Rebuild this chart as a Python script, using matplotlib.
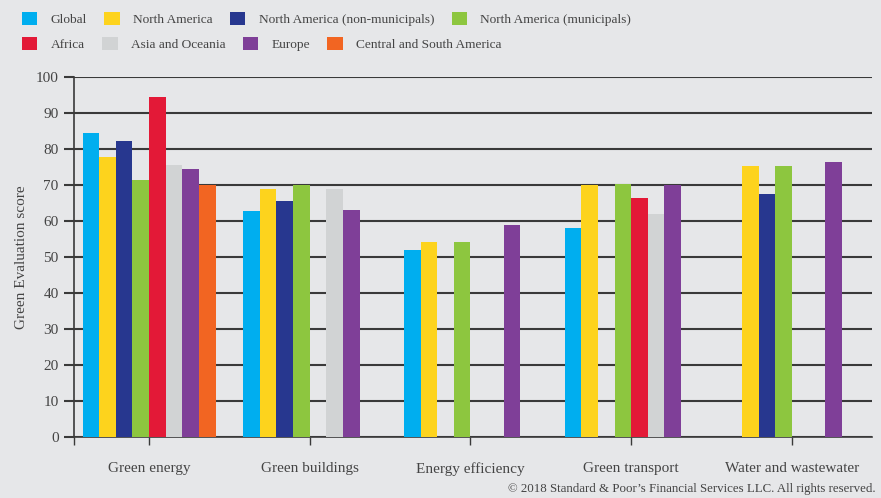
import numpy as np
import matplotlib.pyplot as plt
from matplotlib.patches import Patch

plt.rcParams['font.family'] = ['Liberation Serif', 'DejaVu Serif']

# categories and series (nan = no bar)
categories = ['Green energy', 'Green buildings', 'Energy efficiency', 'Green transport', 'Water and wastewater']
series_names = ['Global', 'North America', 'North America (non-municipals)', 'North America (municipals)',
                'Africa', 'Asia and Oceania', 'Europe', 'Central and South America']
nan = np.nan
global_vals = [84.4, 62.8, 51.9, 58.1, nan]
north_america = [77.8, 68.9, 54.2, 70.0, 75.3]
na_non_municipals = [82.2, 65.6, nan, nan, 67.5]
na_municipals = [71.4, 70.0, 54.2, 70.3, 75.3]
africa = [94.4, nan, nan, 66.4, nan]
asia_oceania = [75.6, 68.9, nan, 61.9, nan]
europe = [74.4, 63.1, 58.9, 70.0, 76.4]
central_south_america = [70.0, nan, nan, nan, nan]

colors = ['#00aeef', '#fdd31d', '#27378f', '#8dc63f', '#e31937', '#d1d3d4', '#7f3f98', '#f26522']
data = [global_vals, north_america, na_non_municipals, na_municipals,
        africa, asia_oceania, europe, central_south_america]

bg = '#e6e7e9'
txt = '#444444'
grid_c = '#3a3a3a'

fig = plt.figure(figsize=(8.81, 4.98), dpi=100, facecolor=bg)
ax = fig.add_axes([0.084, 0.1225, 0.906, 0.7225], facecolor=bg)

x = np.arange(len(categories))
w = 0.1035
for i, (vals, c) in enumerate(zip(data, colors)):
    ax.bar(x + (i - 3.5) * w, vals, width=w, color=c, zorder=3)

ax.set_ylim(0, 100)
ax.set_xlim(-0.467, 4.5)
ax.set_yticks(range(0, 101, 10))
ax.yaxis.grid(True, color=grid_c, linewidth=1.5, zorder=0)
ax.set_axisbelow(True)
ax.set_xticks([-0.467] + list(x))
ax.set_xticklabels([''] + categories)

for s in ['top', 'right']:
    ax.spines[s].set_visible(False)
for s in ['left', 'bottom']:
    ax.spines[s].set_color(grid_c)
    ax.spines[s].set_linewidth(1.2)

ax.tick_params(axis='y', length=7, width=1.5, color=grid_c, labelcolor=txt, labelsize=11, pad=4)
ax.tick_params(axis='x', length=6, width=1.0, color=grid_c, labelcolor=txt, labelsize=11, pad=12)
ax.set_ylabel('Green Evaluation score', color=txt, fontsize=11, labelpad=6)

handles = [Patch(facecolor=c, edgecolor='none') for c in colors]
common = dict(frameon=False, fontsize=9.6, handlelength=1.15, handleheight=1.2,
              handletextpad=1.0, columnspacing=1.3, labelcolor=txt, borderaxespad=0)
fig.legend(handles[:4], series_names[:4], ncol=4, loc='center left',
           bbox_to_anchor=(0.019, 0.962), **common)
fig.legend(handles[4:], series_names[4:], ncol=4, loc='center left',
           bbox_to_anchor=(0.019, 0.912), **common)

fig.text(0.994, 0.018, '\u00a9 2018 Standard & Poor\u2019s Financial Services LLC. All rights reserved.',
         ha='right', va='center', color=txt, fontsize=9.3)

fig.savefig('out.png', dpi=100, facecolor=bg)
